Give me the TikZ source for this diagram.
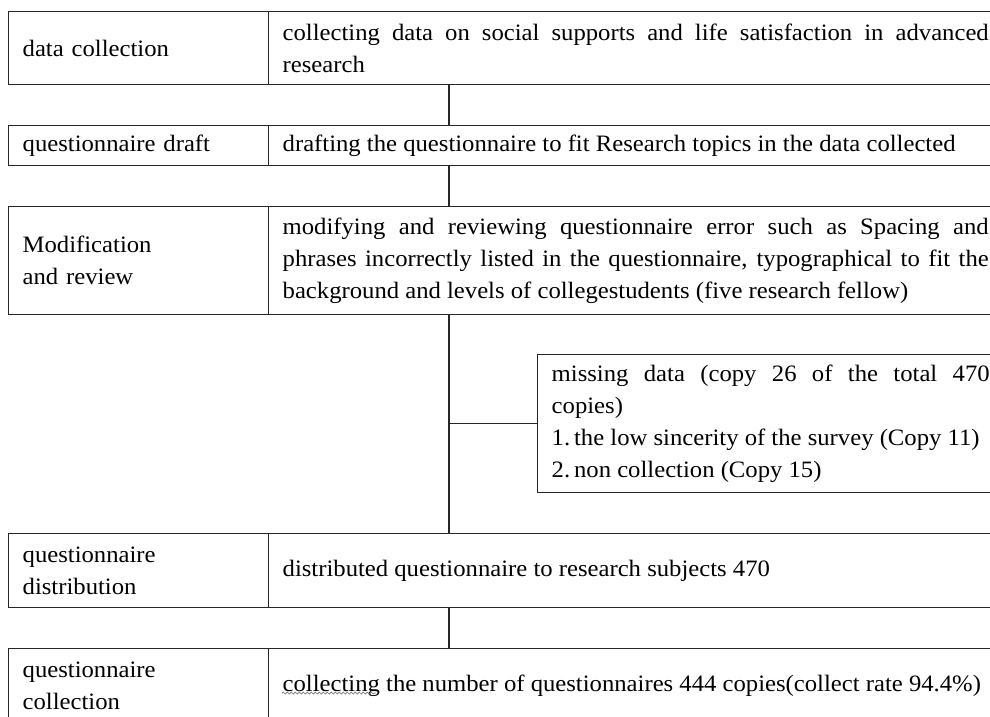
\documentclass[tikz,border=0pt]{standalone}
\usepackage{fontspec}
\setmainfont{Liberation Serif}[FakeStretch=1.05]
\usetikzlibrary{calc,decorations.pathmorphing}

\begin{document}
\begin{tikzpicture}[x=1pt,y=-1pt,
    cell/.style={draw=black!85,line width=1.4pt,rectangle,anchor=north west,
      inner xsep=14pt,inner ysep=0pt,font=\fontsize{23.5}{32}\selectfont},
    lcell/.style={cell,text width=232pt,align=left},
    rcell/.style={cell,text width=706pt,align=justify},
    link/.style={draw=black!85,line width=1.4pt}]
  \useasboundingbox (0,0) rectangle (990,717);
  \clip (0,0) rectangle (990,717);
  \coordinate (spine) at (449,0);
  % rows
  \node[lcell,minimum height=73pt](dc)at(8,11){data collection};
  \node[rcell,minimum height=73pt](dcr)at(268,11){collecting data on social supports and life satisfaction in advanced\linebreak research};
  \node[lcell,minimum height=40pt](qd)at(8,125){questionnaire draft};
  \node[rcell,minimum height=40pt](qdr)at(268,125){drafting the questionnaire to fit Research topics in the data collected};
  \node[lcell,minimum height=108pt](mr)at(8,206){Modification\\and review};
  \node[rcell,minimum height=108pt](mrr)at(268,206){modifying and reviewing questionnaire error such as Spacing and\linebreak phrases incorrectly listed in the questionnaire, typographical to fit the\linebreak background and levels of collegestudents (five research fellow)};
  \node[cell,text width=438pt,align=justify,minimum height=138pt](md)at(537,354){missing data (copy 26 of the total 470\linebreak copies)\\1.\,the low sincerity of the survey (Copy 11)\\2.\,non collection (Copy 15)};
  \node[lcell,minimum height=74pt](qs)at(8,533){questionnaire\\distribution};
  \node[rcell,minimum height=74pt](qsr)at(268,533){distributed questionnaire to research subjects 470};
  \node[lcell,minimum height=74pt](qc)at(8,648){questionnaire\\collection};
  \node[rcell,minimum height=74pt](qcr)at(268,648){collecting the number of questionnaires 444 copies(collect rate 94.4\%)};
  % spine and branch
  \draw[link](dcr.south -| spine)--(qdr.north -| spine);
  \draw[link](qdr.south -| spine)--(mrr.north -| spine);
  \draw[link](mrr.south -| spine)--(qsr.north -| spine);
  \draw[link](md.west -| spine)--(md.west);
  \draw[link](qsr.south -| spine)--(qcr.north -| spine);
  % spelling mark
  \draw[decorate,decoration={snake,amplitude=1pt,segment length=4pt},black!55,line width=0.7pt](282,693)--(376,693);
\end{tikzpicture}
\end{document}
